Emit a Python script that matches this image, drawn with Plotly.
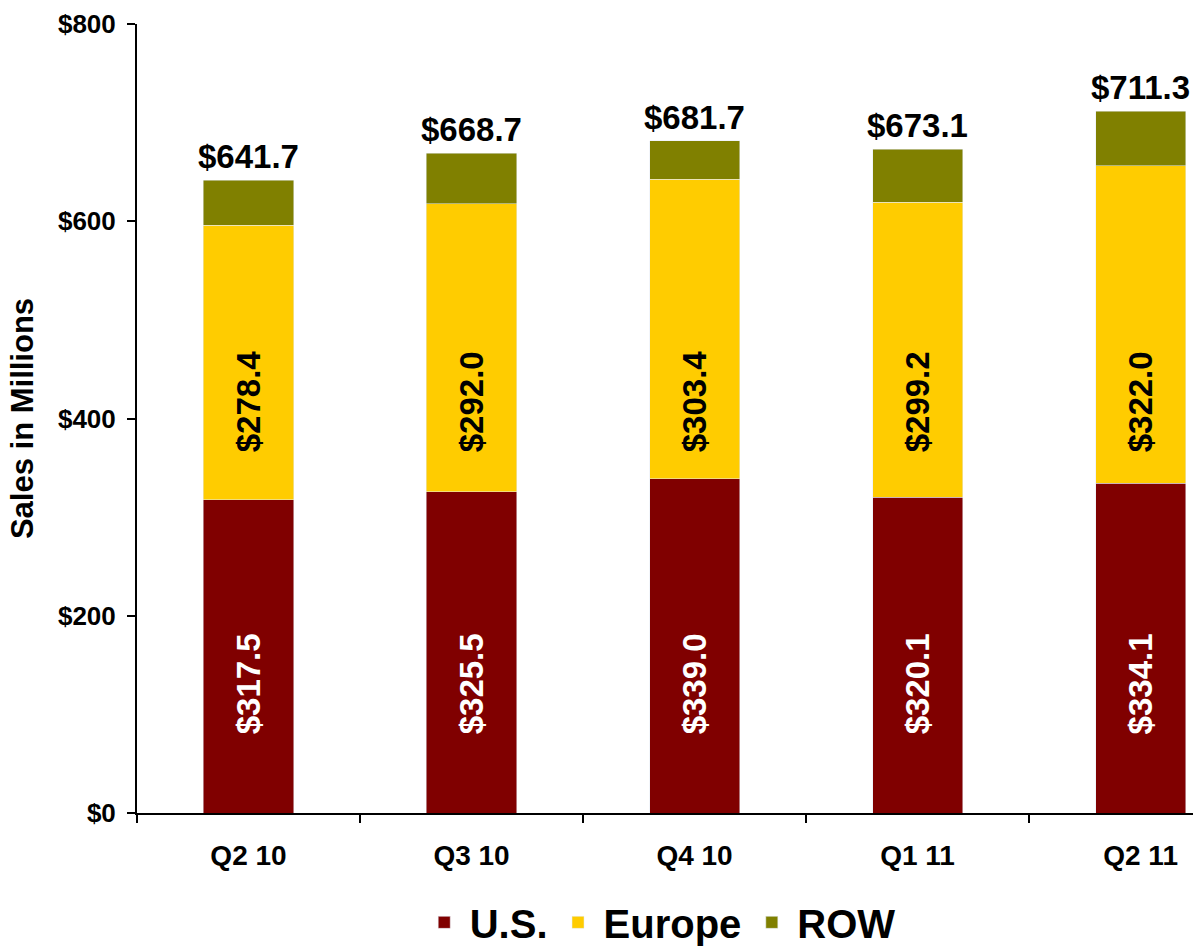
import plotly.graph_objects as go

quarters = ["Q2 10", "Q3 10", "Q4 10", "Q1 11", "Q2 11"]
us = [317.5, 325.5, 339.0, 320.1, 334.1]
europe = [278.4, 292.0, 303.4, 299.2, 322.0]
totals = [641.7, 668.7, 681.7, 673.1, 711.3]
row = [round(t - u - e, 1) for t, u, e in zip(totals, us, europe)]

y_ticks = [0, 200, 400, 600, 800]

# label placement (data units) for the in-bar labels, as in the original slide
US_LABEL_Y = 131
EU_LABEL_Y = 417

C_US = "#800000"
C_EU = "#FFCC00"
C_ROW = "#808000"
FONT = "Liberation Sans, Arial, sans-serif"

fig = go.Figure()
fig.add_trace(go.Bar(name="U.S.", x=quarters, y=us, marker_color=C_US))
fig.add_trace(go.Bar(name="Europe", x=quarters, y=europe, marker_color=C_EU))
fig.add_trace(go.Bar(name="ROW", x=quarters, y=row, marker_color=C_ROW))

annotations = []
for q, u, e, t in zip(quarters, us, europe, totals):
    annotations.append(dict(x=q, y=US_LABEL_Y, text=f"${u:.1f}", textangle=-90,
                            showarrow=False,
                            font=dict(size=33, color="white", family=FONT, weight="bold")))
    annotations.append(dict(x=q, y=EU_LABEL_Y, text=f"${e:.1f}", textangle=-90,
                            showarrow=False,
                            font=dict(size=33, color="black", family=FONT, weight="bold")))
    annotations.append(dict(x=q, y=t, text=f"${t:.1f}", showarrow=False,
                            yanchor="bottom", yshift=3,
                            font=dict(size=33, color="black", family=FONT, weight="bold")))

fig.update_layout(
    barmode="stack",
    bargap=0.596,
    width=1193, height=946,
    margin=dict(l=137, r=0, t=24, b=133),
    paper_bgcolor="white", plot_bgcolor="white",
    font=dict(family=FONT, color="black", size=26, weight="bold"),
    annotations=annotations,
    legend=dict(orientation="h", x=0.495, xanchor="center",
                yref="container", y=0.025, yanchor="middle",
                font=dict(size=40, family=FONT, weight="bold"), itemwidth=41,
                traceorder="normal"),
    xaxis=dict(range=[-0.5, 4.235], showline=True, linecolor="black", linewidth=2,
               ticks="outside", tickson="boundaries", ticklen=8, tickwidth=2, tickcolor="black",
               tickfont=dict(size=28, family=FONT, weight="bold"), ticklabelstandoff=16,
               showgrid=False, zeroline=False, fixedrange=True, automargin=False),
    yaxis=dict(range=[0, 800], tickvals=y_ticks, ticktext=[f"${v}" for v in y_ticks],
               showline=True, linecolor="black", linewidth=2,
               ticks="outside", ticklen=8, tickwidth=2, tickcolor="black",
               tickfont=dict(size=26, family=FONT, weight="bold"), ticklabelstandoff=6,
               showgrid=False, zeroline=False,
               title=dict(text="Sales in Millions", standoff=15,
                          font=dict(size=31, family=FONT, weight="bold")),
               automargin=False),
)

fig.write_html("out.html")
